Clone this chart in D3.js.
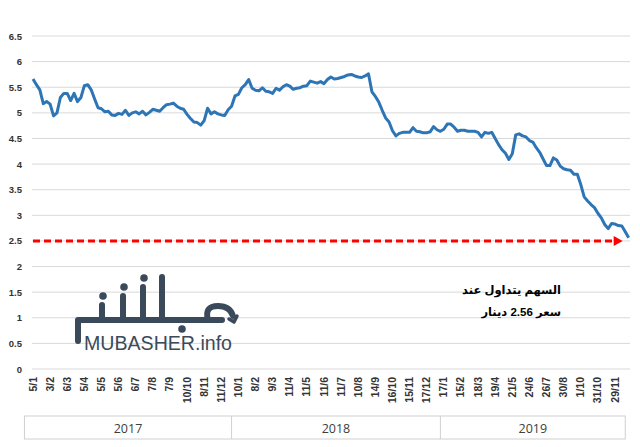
<!DOCTYPE html>
<html><head><meta charset="utf-8">
<script src="https://cdn.jsdelivr.net/npm/d3@7"></script>
<style>html,body{margin:0;padding:0;background:#fff;}svg{display:block;}</style>
</head><body>
<script>
// ---------- data ----------
const xLabels = ["5/1","3/2","6/3","5/4","5/5","5/6","6/7","7/8","7/9","10/10","8/11","11/12",
  "10/1","8/2","9/3","11/4","11/5","11/6","11/7","10/8","14/9","16/10","15/11","17/12",
  "17/1","15/2","18/3","19/4","21/5","24/6","26/7","30/8","1/10","31/10","29/11"];
const yTicks = [0,0.5,1,1.5,2,2.5,3,3.5,4,4.5,5,5.5,6,6.5];
const years = ["2017","2018","2019"];
const yearBounds = [-0.5, 11.6, 23.8, 34.6];   // in label-index units
const samplesPerLabel = 5;
// share price, 5 readings per label interval
const price = [
  5.66,5.55,5.45,5.18,5.22,5.17,4.94,5.00,5.30,5.38,
  5.38,5.24,5.38,5.22,5.30,5.53,5.55,5.45,5.27,5.10,
  5.08,5.02,5.03,4.96,4.95,4.99,4.97,5.05,4.95,5.00,
  5.02,4.98,5.03,4.96,5.01,5.07,5.05,5.03,5.10,5.16,
  5.17,5.19,5.13,5.09,5.07,4.97,4.89,4.82,4.81,4.76,
  4.85,5.09,4.98,5.02,4.98,4.96,4.95,5.06,5.13,5.33,
  5.36,5.49,5.55,5.65,5.48,5.44,5.43,5.49,5.42,5.41,
  5.38,5.48,5.44,5.51,5.55,5.52,5.46,5.48,5.49,5.52,
  5.53,5.62,5.60,5.58,5.61,5.57,5.65,5.70,5.66,5.67,
  5.69,5.71,5.74,5.75,5.72,5.70,5.69,5.72,5.76,5.41,
  5.32,5.21,5.05,4.90,4.82,4.65,4.55,4.60,4.62,4.62,
  4.62,4.71,4.64,4.63,4.61,4.61,4.63,4.73,4.67,4.64,
  4.68,4.78,4.78,4.72,4.64,4.66,4.66,4.64,4.64,4.64,
  4.62,4.53,4.62,4.60,4.62,4.50,4.38,4.28,4.21,4.09,
  4.20,4.57,4.59,4.55,4.53,4.46,4.43,4.32,4.23,4.10,
  3.97,3.97,4.12,4.08,3.96,3.91,3.89,3.88,3.80,3.80,
  3.60,3.36,3.28,3.21,3.15,3.04,2.95,2.82,2.74,2.84,
  2.83,2.80,2.79,2.68,2.56
];
const currentLevel = 2.5;
const arrowEnd = 34.45;
const noteLines = ["السهم يتداول عند", "سعر 2.56 دينار"];

// ---------- chart ----------
const W = 640, H = 447;
const svg = d3.select("body").append("svg").attr("width", W).attr("height", H);
svg.append("rect").attr("width", W).attr("height", H).attr("fill", "#fff");

const x = d3.scaleLinear().domain([0, xLabels.length - 1]).range([33, 615]);
const y = d3.scaleLinear().domain([0, 6.5]).range([369, 36]);

// gridlines
svg.append("g").selectAll("line").data(yTicks).join("line")
  .attr("x1", 32).attr("x2", 630)
  .attr("y1", d => y(d)).attr("y2", d => y(d))
  .attr("stroke", "#d9d9d9").attr("stroke-width", 1);

// y axis labels
const yAxis = d3.axisLeft(y).tickValues(yTicks).tickSize(0).tickPadding(0)
  .tickFormat(d => String(d));
svg.append("g").attr("transform", "translate(22,0)").call(yAxis)
  .call(g => g.select(".domain").remove())
  .call(g => g.selectAll("text").attr("font-family", "Arial, 'Liberation Sans', sans-serif")
    .attr("font-size", 9.5).attr("font-weight", "bold").attr("fill", "#333"));

// x labels
svg.append("g").selectAll("text").data(xLabels).join("text")
  .attr("transform", (d, i) => `translate(${x(i) + 3.5},377) rotate(-90)`)
  .attr("text-anchor", "end")
  .attr("font-family", "Arial, 'Liberation Sans', sans-serif")
  .attr("font-size", 10.5).attr("font-weight", "bold").attr("fill", "#333")
  .text(d => d);

// year boxes
const yb = svg.append("g");
const boxTop = 416, boxH = 23;
yb.append("rect").attr("x", x(yearBounds[0])).attr("y", boxTop)
  .attr("width", x(yearBounds[3]) - x(yearBounds[0])).attr("height", boxH)
  .attr("fill", "none").attr("stroke", "#d0d0d0");
yb.selectAll("line").data(yearBounds.slice(1, 3)).join("line")
  .attr("x1", d => x(d)).attr("x2", d => x(d)).attr("y1", boxTop).attr("y2", boxTop + boxH)
  .attr("stroke", "#d0d0d0");
yb.selectAll("text").data(years).join("text")
  .attr("x", (d, i) => (x(yearBounds[i]) + x(yearBounds[i + 1])) / 2)
  .attr("y", boxTop + 16.5).attr("text-anchor", "middle")
  .attr("font-family", "'Open Sans', Arial, sans-serif").attr("font-size", 12.5)
  .attr("fill", "#404040").text(d => d);

// logo (decoration)
const logo = svg.append("g").attr("stroke", "#3b4a5a").attr("stroke-width", 6)
  .attr("stroke-linecap", "round").attr("stroke-linejoin", "round").attr("fill", "none");
logo.append("path").attr("d", "M78,341 L78,320 L222,320");
logo.append("path").attr("d", "M102,320 L102,305 M123,320 L123,296 M143,320 L143,287 M162,320 L162,277");
logo.append("path").attr("d", "M208,320 Q204,306 218,306 Q230,306 233,316");
logo.append("path").attr("d", "M229,319 L234,322 L237,316").attr("stroke-width", 3.5);
const dots = [[103,296],[124,287],[144,278],[182,329]];
logo.selectAll("circle").data(dots).join("circle")
  .attr("cx", d => d[0]).attr("cy", d => d[1]).attr("r", 3.8)
  .attr("fill", "#3b4a5a").attr("stroke", "none");
svg.append("text").attr("x", 84).attr("y", 350)
  .attr("font-family", "Arial, 'Liberation Sans', sans-serif").attr("font-size", 19.5)
  .attr("textLength", 148).attr("lengthAdjust", "spacingAndGlyphs")
  .attr("fill", "#3b4a5a").text("MUBASHER.info");

// red dashed arrow at current level
svg.append("line")
  .attr("x1", x(0)).attr("x2", x(arrowEnd) - 8)
  .attr("y1", y(currentLevel)).attr("y2", y(currentLevel))
  .attr("stroke", "#ff0000").attr("stroke-width", 3).attr("stroke-dasharray", "7,4");
svg.append("path")
  .attr("d", `M${x(arrowEnd) - 9},${y(currentLevel) - 5} L${x(arrowEnd)},${y(currentLevel)} L${x(arrowEnd) - 9},${y(currentLevel) + 5} Z`)
  .attr("fill", "#ff0000");

// price line
const line = d3.line().x((d, i) => x(i / samplesPerLabel)).y(d => y(d));
svg.append("path").datum(price).attr("d", line)
  .attr("fill", "none").attr("stroke", "#2e75b6").attr("stroke-width", 3)
  .attr("stroke-linejoin", "round");

// annotation (right-to-left text)
svg.append("g").selectAll("text").data(noteLines).join("text")
  .attr("x", 561).attr("y", (d, i) => 294 + i * 22)
  .attr("direction", "rtl").attr("text-anchor", "start")
  .attr("font-family", "'Liberation Sans', 'DejaVu Sans', sans-serif")
  .attr("font-size", 11.5).attr("font-weight", "bold").attr("fill", "#000")
  .text(d => d);
</script>
</body></html>
